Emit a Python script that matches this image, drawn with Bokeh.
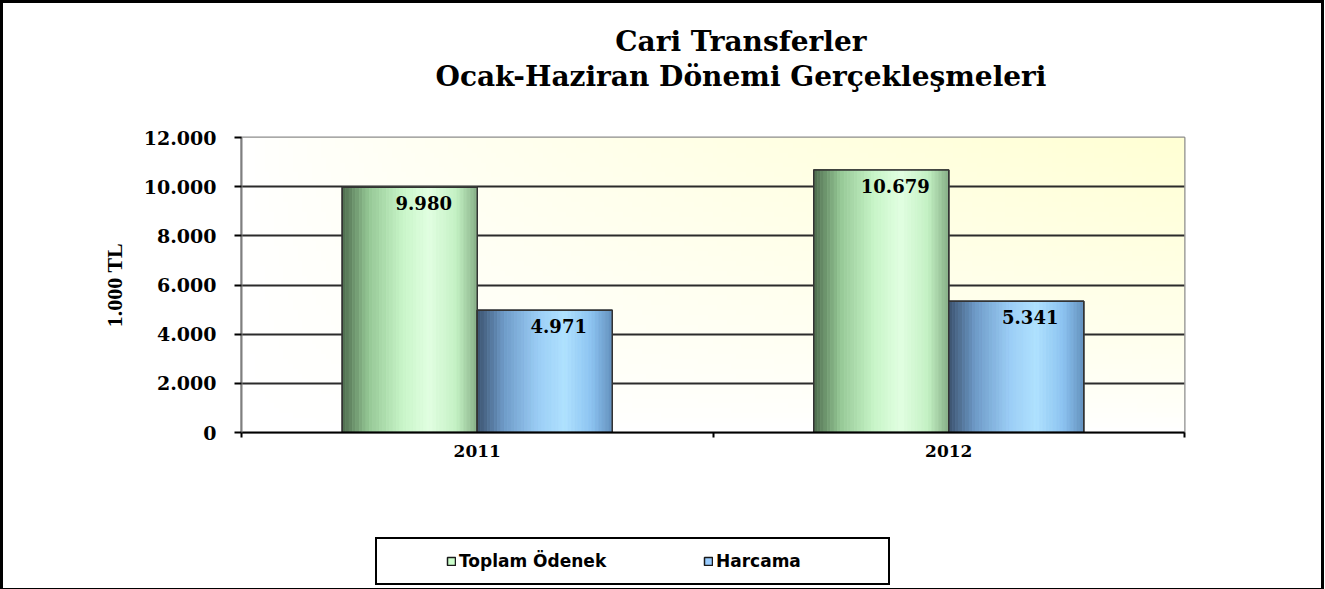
import numpy as np
from bokeh.plotting import figure
from bokeh.layouts import column
from bokeh.models import Range1d, FixedTicker, Title, Legend, LegendItem, ColumnDataSource
from bokeh.core.properties import value
from bokeh.embed import file_html
from bokeh.resources import INLINE

# ---------------- data ----------------
years = ["2011", "2012"]
series_names = ["Toplam Ödenek", "Harcama"]
toplam_odenek = [9980, 10679]
harcama = [4971, 5341]
y_ticks = [0, 2000, 4000, 6000, 8000, 10000, 12000]
y_tick_labels = ["0", "2.000", "4.000", "6.000", "8.000", "10.000", "12.000"]
title_lines = ["Cari Transferler", "Ocak-Haziran Dönemi Gerçekleşmeleri"]
y_axis_label = "1.000 TL"

# ---------------- style ----------------
SERIF = "DejaVu Serif"
W = 1318
H1, H2 = 489, 96
ML, MT, FW, FH = 238, 134, 943, 295
BAR_W = 0.2863          # fraction of one category slot
N_STRIPS = 40

green_stops = [(0.0, (77, 107, 77)), (0.2, (150, 200, 150)), (0.45, (200, 245, 200)),
               (0.65, (226, 255, 226)), (0.85, (195, 240, 195)), (1.0, (135, 175, 135))]
blue_stops = [(0.0, (60, 82, 110)), (0.2, (110, 155, 200)), (0.45, (155, 205, 245)),
              (0.65, (176, 226, 255)), (0.85, (140, 195, 240)), (1.0, (100, 145, 190))]
base_colors = ["#ccffcc", "#99ccff"]


def grad_color(stops, t):
    for (t0, c0), (t1, c1) in zip(stops[:-1], stops[1:]):
        if t <= t1:
            f = (t - t0) / (t1 - t0)
            c = [int(round(a + (b - a) * f)) for a, b in zip(c0, c1)]
            return "#%02x%02x%02x" % tuple(c)
    return "#%02x%02x%02x" % stops[-1][1]


p = figure(width=W, height=H1, output_backend="svg", toolbar_location=None,
           x_range=Range1d(0, len(years)), y_range=Range1d(y_ticks[0], y_ticks[-1]),
           min_border_left=ML, min_border_right=W - ML - FW, min_border_top=MT,
           min_border_bottom=H1 - MT - FH)
p.title.visible = False
p.background_fill_color = "white"
p.border_fill_color = "white"
p.outline_line_color = "#8c8c8c"
p.outline_line_width = 2

# background gradient (white -> pale yellow towards top right)
ny, nx = 60, 200
u = np.linspace(0, 1, nx)[None, :]
v = np.linspace(0, 1, ny)[:, None]
t = np.clip((u * v) ** 0.75, 0, 1)
img = np.empty((ny, nx), dtype=np.uint32)
view = img.view(dtype=np.uint8).reshape((ny, nx, 4))
view[:, :, 0] = 255
view[:, :, 1] = 255
view[:, :, 2] = np.round(255 - (255 - 212) * t).astype(np.uint8)
view[:, :, 3] = 255
p.image_rgba(image=[img], x=0, y=y_ticks[0], dw=len(years), dh=y_ticks[-1] - y_ticks[0],
             level="image")

# bars
centers = np.arange(len(years)) + 0.5
series = [(toplam_odenek, green_stops, base_colors[0], -1), (harcama, blue_stops, base_colors[1], 0)]
for vals, stops, base_col, shift in series:
    lefts = centers + shift * BAR_W
    rights = lefts + BAR_W
    p.quad(left=lefts, right=rights, bottom=0, top=vals, fill_color=base_col,
           line_color="#2a2a2a", line_width=1.5)
    sl, sr, st, sc = [], [], [], []
    for l, val in zip(lefts, vals):
        for k in range(N_STRIPS):
            sl.append(l + BAR_W * k / N_STRIPS)
            sr.append(l + BAR_W * (k + 1) / N_STRIPS)
            st.append(val)
            sc.append(grad_color(stops, (k + 0.5) / N_STRIPS))
    p.quad(left=sl, right=sr, bottom=0, top=st, fill_color=sc, line_color=sc, line_width=0.6)
    p.quad(left=lefts, right=rights, bottom=0, top=vals, fill_color=None,
           line_color="#333333", line_width=1.5)
    src = ColumnDataSource(dict(x=(lefts + rights) / 2, y=vals,
                                t=[f"{v_:,}".replace(",", ".") for v_ in vals]))
    p.text(x="x", y="y", text="t", source=src, x_offset=14, y_offset=16,
           text_align="center", text_baseline="middle", text_font=value(SERIF),
           text_font_style="bold", text_font_size="18px", text_color="black")

# grid
p.xgrid.visible = False
p.ygrid.ticker = FixedTicker(ticks=y_ticks[1:-1])
p.ygrid.grid_line_color = "#2b2b2b"
p.ygrid.grid_line_width = 2

# y axis
p.yaxis.ticker = FixedTicker(ticks=y_ticks)
p.yaxis.major_label_overrides = {tk: lb for tk, lb in zip(y_ticks, y_tick_labels)}
p.yaxis.axis_line_color = "#7f7f7f"
p.yaxis.axis_line_width = 2
p.yaxis.major_tick_out = 7
p.yaxis.major_tick_in = 0
p.yaxis.major_tick_line_color = "black"
p.yaxis.major_tick_line_width = 2
p.yaxis.minor_tick_line_color = None
p.yaxis.major_label_standoff = 18
p.yaxis.major_label_text_font = SERIF
p.yaxis.major_label_text_font_style = "bold"
p.yaxis.major_label_text_font_size = "19px"
p.yaxis.major_label_text_color = "black"
p.yaxis.axis_label = y_axis_label
p.yaxis.axis_label_text_font = "Liberation Serif"
p.yaxis.axis_label_text_font_style = "bold"
p.yaxis.axis_label_text_font_size = "22px"
p.yaxis.axis_label_text_color = "black"
p.yaxis.axis_label_standoff = 14

# x axis
p.xaxis.ticker = FixedTicker(ticks=list(centers), minor_ticks=list(range(len(years) + 1)))
p.xaxis.major_label_overrides = {float(c): y for c, y in zip(centers, years)}
p.xaxis.axis_line_color = "black"
p.xaxis.axis_line_width = 2
p.xaxis.major_tick_line_color = None
p.xaxis.minor_tick_out = 5
p.xaxis.minor_tick_in = 0
p.xaxis.minor_tick_line_color = "black"
p.xaxis.minor_tick_line_width = 2
p.xaxis.major_label_standoff = 6
p.xaxis.major_label_text_font = SERIF
p.xaxis.major_label_text_font_style = "bold"
p.xaxis.major_label_text_font_size = "17px"
p.xaxis.major_label_text_color = "black"

# titles (stacked outward from the frame: spacer, line 2, line 1)
spacer = Title(text=" ", text_font_size="1px", standoff=42)
t2 = Title(text=title_lines[1], align="right", offset=138, text_font=SERIF,
           text_font_style="bold", text_font_size="28px", text_color="black", standoff=0)
t1 = Title(text=title_lines[0], align="right", offset=318, text_font=SERIF,
           text_font_style="bold", text_font_size="28px", text_color="black", standoff=0)
p.add_layout(spacer, "above")
p.add_layout(t2, "above")
p.add_layout(t1, "above")

# legend panel (separate strip below the chart; its frame aligns with the chart frame)
lp = figure(width=W, height=H2, output_backend="svg", toolbar_location=None,
            x_range=Range1d(0, 1), y_range=Range1d(0, 1), x_axis_type=None, y_axis_type=None,
            min_border=0, outline_line_color=None)
lp.xgrid.visible = False
lp.ygrid.visible = False
lp.title.visible = False
nan = float("nan")
leg_rs = [lp.quad(left=[nan], right=[nan], bottom=[nan], top=[nan], fill_color=c,
                  line_color="#1a1a1a", line_width=1.5) for c in base_colors]
legend = Legend(items=[LegendItem(label=n, renderers=[r]) for n, r in zip(series_names, leg_rs)],
                orientation="horizontal", location=(134, 3),
                border_line_color="black", border_line_width=2, border_line_alpha=1,
                background_fill_color="white", background_fill_alpha=1,
                padding=12, spacing=84, label_width=160,
                label_standoff=3, glyph_width=10, glyph_height=10, margin=0,
                label_text_font="DejaVu Sans", label_text_font_style="bold",
                label_text_font_size="17px", label_text_color="black",
                title=" ", title_location="left", title_standoff=52,
                title_text_font_size="4px")
lp.add_layout(legend)

layout = column(p, lp, spacing=0, styles={"border": "3px solid black"})
open("out.html", "w").write(file_html(layout, INLINE))
